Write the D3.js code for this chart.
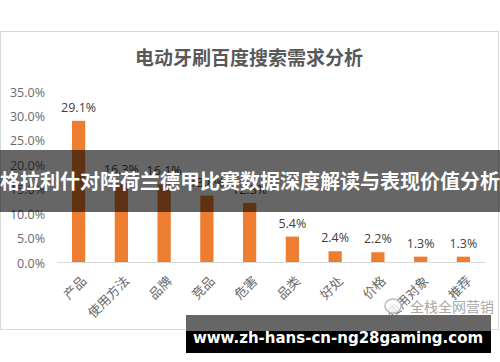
<!DOCTYPE html>
<html>
<head>
<meta charset="utf-8">
<script src="https://cdn.jsdelivr.net/npm/d3@7"></script>
<style>
  body { margin: 0; background: #fff; }
  svg { display: block; font-family: "Noto Sans CJK SC", "Noto Sans", sans-serif; }
</style>
</head>
<body>
<script>
// chart data
const categories = ['产品', '使用方法', '品牌', '竞品', '危害', '品类', '好处', '价格', '使用对象', '推荐'];
const shares = [29.1, 16.3, 16.1, 13.8, 12.3, 5.4, 2.4, 2.2, 1.3, 1.3];
const yTicks = [0, 5, 10, 15, 20, 25, 30, 35];
const chartTitle = '电动牙刷百度搜索需求分析';
const bannerText = '格拉利什对阵荷兰德甲比赛数据深度解读与表现价值分析';
const urlText = 'www.zh-hans-cn-ng28gaming.com';
const markText = '全栈全网营销';

const W = 500, H = 362;
const plot = { left: 57, right: 485, top: 92, bottom: 263 };

const svg = d3.select('body').append('svg')
    .attr('width', W)
    .attr('height', H);

// chart frame
svg.append('rect')
    .attr('x', 0.5).attr('y', 31.5)
    .attr('width', 498).attr('height', 298)
    .attr('fill', '#fff')
    .attr('stroke', '#d9d9d9');

svg.append('text')
    .attr('x', 249).attr('y', 65)
    .attr('text-anchor', 'middle')
    .attr('font-size', 19)
    .attr('font-weight', 'bold')
    .attr('fill', '#595959')
    .text(chartTitle);

const x = d3.scaleBand()
    .domain(categories)
    .range([plot.left, plot.right])
    .paddingInner(0.69)
    .paddingOuter(0.35);

const y = d3.scaleLinear()
    .domain([0, 35])
    .range([plot.bottom, plot.top]);

// y axis (labels only)
const yAxis = svg.append('g')
    .attr('transform', `translate(${plot.left - 12},0)`)
    .call(d3.axisLeft(y).tickValues(yTicks).tickSize(0).tickPadding(0).tickFormat(d => d.toFixed(1) + '%'));
yAxis.select('.domain').remove();
yAxis.selectAll('text')
    .attr('font-size', 12.5)
    .attr('fill', '#6a6a6a')
    .attr('font-family', '"Open Sans", "Noto Sans", sans-serif');

// baseline
svg.append('line')
    .attr('x1', plot.left).attr('x2', plot.right)
    .attr('y1', y(0) - 0.5).attr('y2', y(0) - 0.5)
    .attr('stroke', '#d9d9d9');

// bars
svg.selectAll('.bar')
    .data(shares)
    .join('rect')
    .attr('class', 'bar')
    .attr('x', (d, i) => x(categories[i]))
    .attr('width', x.bandwidth())
    .attr('y', d => y(d))
    .attr('height', d => y(0) - y(d) - 1)
    .attr('fill', '#ed7d31');

// data labels
svg.selectAll('.val')
    .data(shares)
    .join('text')
    .attr('class', 'val')
    .attr('x', (d, i) => x(categories[i]) + x.bandwidth() / 2)
    .attr('y', d => y(d) - 9)
    .attr('text-anchor', 'middle')
    .attr('font-size', 12.5)
    .attr('fill', '#404040')
    .attr('font-family', '"Open Sans", "Noto Sans", sans-serif')
    .text(d => d.toFixed(1) + '%');

// category labels, rotated
svg.selectAll('.cat')
    .data(categories)
    .join('text')
    .attr('class', 'cat')
    .attr('transform', d => `translate(${x(d) + x.bandwidth() / 2 + 5},${plot.bottom + 15}) rotate(-45)`)
    .attr('text-anchor', 'end')
    .attr('dominant-baseline', 'central')
    .attr('font-size', 13)
    .attr('fill', '#6a6a6a')
    .text(d => d);

// watermark
const mark = svg.append('g').attr('transform', 'translate(393,306)');
mark.append('ellipse').attr('cx', 0).attr('cy', 0).attr('rx', 8).attr('ry', 7)
    .attr('fill', 'rgba(255,255,255,0.8)').attr('stroke', '#bbb').attr('stroke-width', 1.5);
mark.append('text')
    .attr('x', 17).attr('y', 6)
    .attr('font-size', 14)
    .attr('fill', '#a8a8a8')
    .text(markText);

// overlay banner across the middle
svg.append('rect')
    .attr('x', 0).attr('y', 150)
    .attr('width', W).attr('height', 62)
    .attr('fill', 'rgba(0,0,0,0.6)');
svg.append('text')
    .attr('x', W / 2).attr('y', 189)
    .attr('text-anchor', 'middle')
    .attr('font-size', 20)
    .attr('font-weight', 'bold')
    .attr('fill', '#fff')
    .text(bannerText);

// url strip at the bottom
svg.append('rect')
    .attr('x', 186).attr('y', 315)
    .attr('width', 305).attr('height', 16)
    .attr('fill', '#666');
svg.append('rect')
    .attr('x', 186).attr('y', 331)
    .attr('width', 305).attr('height', 22)
    .attr('fill', '#000');
svg.append('text')
    .attr('x', 338).attr('y', 343)
    .attr('text-anchor', 'middle')
    .attr('font-size', 15)
    .attr('font-weight', 'bold')
    .attr('fill', '#fff')
    .attr('font-family', '"DejaVu Sans", sans-serif')
    .text(urlText);
</script>
</body>
</html>
